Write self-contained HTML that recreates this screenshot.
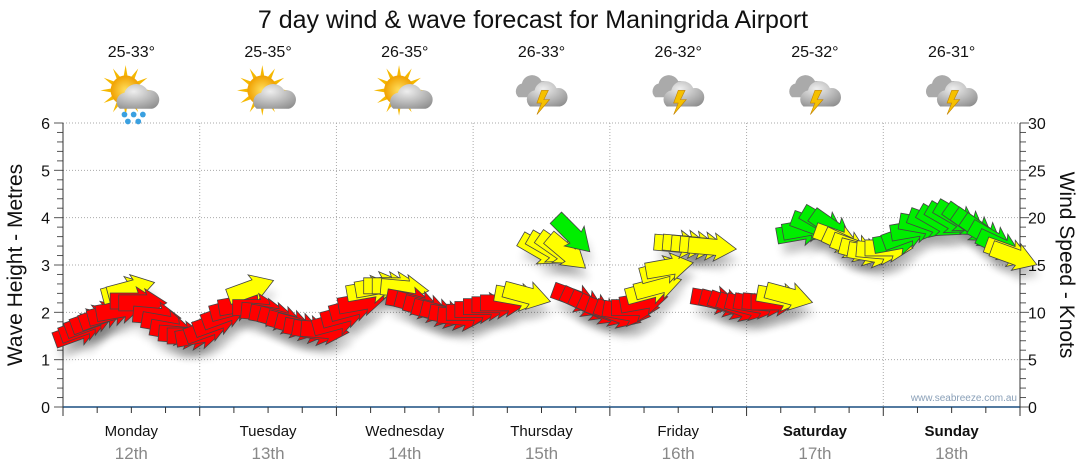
<!DOCTYPE html>
<html><head><meta charset="utf-8"><style>
body{margin:0;background:#fff;}
svg{display:block;font-family:"Liberation Sans",Arial,sans-serif;}
</style></head><body>
<svg id="c" width="1080" height="475" viewBox="0 0 1080 475">
<defs>
<filter id="sh" x="-50%" y="-50%" width="200%" height="200%"><feGaussianBlur stdDeviation="4"/></filter>
<radialGradient id="cloudg" cx="0.4" cy="0.3" r="0.8"><stop offset="0" stop-color="#eee"/><stop offset="1" stop-color="#8f8f8f"/></radialGradient>
<radialGradient id="sung" cx="0.5" cy="0.5" r="0.5"><stop offset="0" stop-color="#ffe060"/><stop offset="1" stop-color="#f0a000"/></radialGradient>
</defs>
<text x="533" y="28" text-anchor="middle" font-size="25" fill="#111">7 day wind &amp; wave forecast for Maningrida Airport</text>
<g id="grid"></g>
<g id="axes"></g>
<g id="icons"></g>
<g id="marks"></g>
<text transform="translate(22,265) rotate(-90)" text-anchor="middle" font-size="21" fill="#111">Wave Height - Metres</text>
<text transform="translate(1060,265) rotate(90)" text-anchor="middle" font-size="21" fill="#111">Wind Speed - Knots</text>
<text x="1017" y="401" text-anchor="end" font-size="10" fill="#8aa0b8">www.seabreeze.com.au</text>
</svg>
<script>
const days=["Monday","Tuesday","Wednesday","Thursday","Friday","Saturday","Sunday"];
const dates=["12th","13th","14th","15th","16th","17th","18th"];
const temps=["25-33°","25-35°","26-35°","26-33°","26-32°","25-32°","26-31°"];
const iconTypes=["rain","sun","sun","storm","storm","storm","storm"];
const leftTicks=[0,1,2,3,4,5,6];
const rightTicks=[0,5,10,15,20,25,30];
const hours=[2.5,3.5,4.5,5.5,7,8.5,10,11,12,12.5,14,16.5,18,19.5,21,22.5,24,
25.5,27,28.5,30,31.5,33,34,35.5,37,38.5,40,41.5,43,44.5,46,
48,49.5,51,52.5,54,55.5,57,58.5,60,61,62.5,64,65.5,67,68.5,70,
71.5,73,74.5,76,77.5,80,81.5,84,85.5,87,88.5,89.5,90,91.5,93,94.5,96,
97.5,99,100.5,102,103,104.5,105.5,106.5,108,109.5,111,112.5,114,114.5,116,117.5,119,120.5,
122,123.5,125,126,127.5,129.5,130.5,132,133.5,135,136,137.5,139,140.5,142,143.5,
145,146.5,148,149.5,151,152.5,154,155.5,157,158.5,160,161.5,163,164.5,166,167];
const speeds=[7.9,8.4,8.9,9.3,9.7,10,10.3,12.3,12.5,11.2,11,9.6,8.8,8,7.6,7.5,7.6,
8.3,9,9.8,10.5,10.9,12.5,10.5,10,9.6,9.2,8.8,8.5,8.2,8,8.1,
9,9.8,10.5,11.1,12.4,12.8,12.8,12.8,12.5,11.2,10.8,10.4,10,9.8,9.6,9.5,
10,10.3,10.6,10.8,11,11.6,11.8,16.5,16.7,16.6,16.3,18.2,11.5,11,10.6,10.2,10,
9.8,10,10.5,11.2,12.3,12.8,14.5,14.8,17.2,17.2,17.1,17,16.9,11.3,11,10.7,10.5,10.6,
10.8,11,11.1,11.6,11.7,18.5,18.9,19.1,19.4,18.9,17.8,17.2,16.8,16.4,16.2,16.5,
16.8,17.5,18.2,18.8,19.2,19.4,19.5,19.8,20,19.6,19,18.4,17.8,17,16.3,15.9];
const angles=[-20,-20,-20,-20,-20,-15,-10,-15,-15,0,0,5,10,10,5,0,-10,
-20,-20,-20,-15,-10,-20,0,5,10,15,15,15,10,10,5,
-15,-15,-15,-10,-10,-10,0,0,5,10,15,15,15,15,10,5,
0,0,0,0,0,10,15,30,30,35,40,45,20,25,25,25,20,
20,10,0,-10,-15,-15,-15,-10,5,5,5,5,5,10,15,20,20,15,
10,5,0,10,15,-10,-10,20,30,35,20,25,20,15,10,5,
0,-10,-20,-10,10,20,30,30,30,35,35,35,30,25,20,20];
const colors=["r","r","r","r","r","r","r","y","y","r","r","r","r","r","r","r","r",
"r","r","r","r","r","y","r","r","r","r","r","r","r","r","r",
"r","r","r","r","y","y","y","y","y","r","r","r","r","r","r","r",
"r","r","r","r","r","y","y","y","y","y","y","g","r","r","r","r","r",
"r","r","r","r","y","y","y","y","y","y","y","y","y","r","r","r","r","r",
"r","r","r","y","y","g","g","g","g","g","y","y","y","y","y","y",
"y","g","g","g","g","g","g","g","g","g","g","g","g","g","y","y"];
const X0=63,X1=1020,Y0=407,Y1=123;
const xh=h=>X0+(X1-X0)*h/168;
const ym=m=>Y0-(Y0-Y1)*m/6;
const yk=k=>Y0-(Y0-Y1)*k/30;
const NS="http://www.w3.org/2000/svg";
function mk(p,t,a){const e=document.createElementNS(NS,t);for(const k in a)e.setAttribute(k,a[k]);p.appendChild(e);return e;}
const grid=document.getElementById('grid'),axes=document.getElementById('axes'),icons=document.getElementById('icons'),marks=document.getElementById('marks');
leftTicks.forEach(v=>{if(v>0){const l=mk(grid,'line',{x1:X0,x2:X1,y1:ym(v),y2:ym(v),stroke:'#aaa','stroke-dasharray':'1,2'});

}
const t=mk(axes,'text',{x:50,y:ym(v)+6,'text-anchor':'end','font-size':16,fill:'#111'});t.textContent=v;

});
rightTicks.forEach(v=>{const t=mk(axes,'text',{x:1028,y:yk(v)+6,'font-size':16,fill:'#111'});t.textContent=v;

});
for(let i=0;i<=30;i++){const y=Y0-(Y0-Y1)*i/30;mk(axes,'line',{x1:i%5?57:54,x2:63,y1:y,y2:y,stroke:'#555'});mk(axes,'line',{x1:1020,x2:i%5?1026:1029,y1:y,y2:y,stroke:'#555'});}
mk(axes,'line',{x1:63,x2:63,y1:Y1,y2:Y0,stroke:'#333'});
mk(axes,'line',{x1:1020,x2:1020,y1:Y1,y2:Y0,stroke:'#333'});
mk(axes,'line',{x1:63,x2:1020,y1:Y0,y2:Y0,stroke:'#1a4f80','stroke-width':1.5});
for(let h=0;h<=168;h+=6){const x=xh(h);mk(axes,'line',{x1:x,x2:x,y1:Y0,y2:h%24?413:416,stroke:'#333'});
if(h%24==0&&h>0&&h<168){const l=mk(grid,'line',{x1:x,x2:x,y1:Y1,y2:Y0,stroke:'#aaa','stroke-dasharray':'1,2'});

}}
days.forEach((d,i)=>{const cx=xh(i*24+12);
const t=mk(axes,'text',{x:cx,y:436,'text-anchor':'middle','font-size':15,fill:'#111','font-weight':i>=5?'bold':'normal'});t.textContent=d;


const t2=mk(axes,'text',{x:cx,y:459,'text-anchor':'middle','font-size':17,fill:'#888'});t2.textContent=dates[i];


const t3=mk(icons,'text',{x:cx,y:57,'text-anchor':'middle','font-size':16,fill:'#111'});t3.textContent=temps[i];


const g=mk(icons,'g',{transform:`translate(${cx},95) scale(1.15)`});


if(iconTypes[i]!='storm'){
for(let a=0;a<360;a+=30){const r=a*Math.PI/180;mk(g,'polygon',{points:`${-5+Math.cos(r)*22},${-4+Math.sin(r)*22} ${-5+Math.cos(r+0.15)*12},${-4+Math.sin(r+0.15)*12} ${-5+Math.cos(r-0.15)*12},${-4+Math.sin(r-0.15)*12}`,fill:'#f5b800'});}
mk(g,'circle',{cx:-5,cy:-4,r:13,fill:'url(#sung)'});
mk(g,'path',{d:'M-10,12 a8,8 0 0 1 4,-14 a11,11 0 0 1 20,-2 a8,8 0 0 1 4,16 z',fill:'url(#cloudg)'});
if(iconTypes[i]=='rain'){[[-6,17],[2,17],[10,17],[-3,23],[6,23]].forEach(p=>mk(g,'circle',{cx:p[0],cy:p[1],r:2.5,fill:'#3aa0e0'}));}
}else{
mk(g,'path',{d:'M-20,2 a7,7 0 0 1 3,-12 a9,9 0 0 1 17,-2 a7,7 0 0 1 3,14 z',fill:'#aaa'});
mk(g,'path',{d:'M-10,10 a8,8 0 0 1 4,-14 a10,10 0 0 1 19,-2 a8,8 0 0 1 3,16 z',fill:'url(#cloudg)'});
mk(g,'polygon',{points:'0,-4 6,-4 2,4 7,4 -4,17 0,7 -4,7',fill:'#f5c000',stroke:'#c08000','stroke-width':0.5});}
});
const cmap={r:'#ff0000',y:'#ffff00',g:'#00ee00'};
const arrow="-24,-8 4,-8 2,-14 24,0 2,14 4,8 -24,8";
hours.forEach((h,i)=>{mk(marks,'polygon',{points:arrow,fill:'#000',opacity:0.12,filter:'url(#sh)',transform:`translate(${xh(h)+4},${yk(speeds[i])+12}) rotate(${angles[i]})`});});
hours.forEach((h,i)=>{const p=mk(marks,'polygon',{points:arrow,fill:cmap[colors[i]],stroke:'#444','stroke-width':0.8,transform:`translate(${xh(h)},${yk(speeds[i])}) rotate(${angles[i]})`});

});
</script>
</body></html>
